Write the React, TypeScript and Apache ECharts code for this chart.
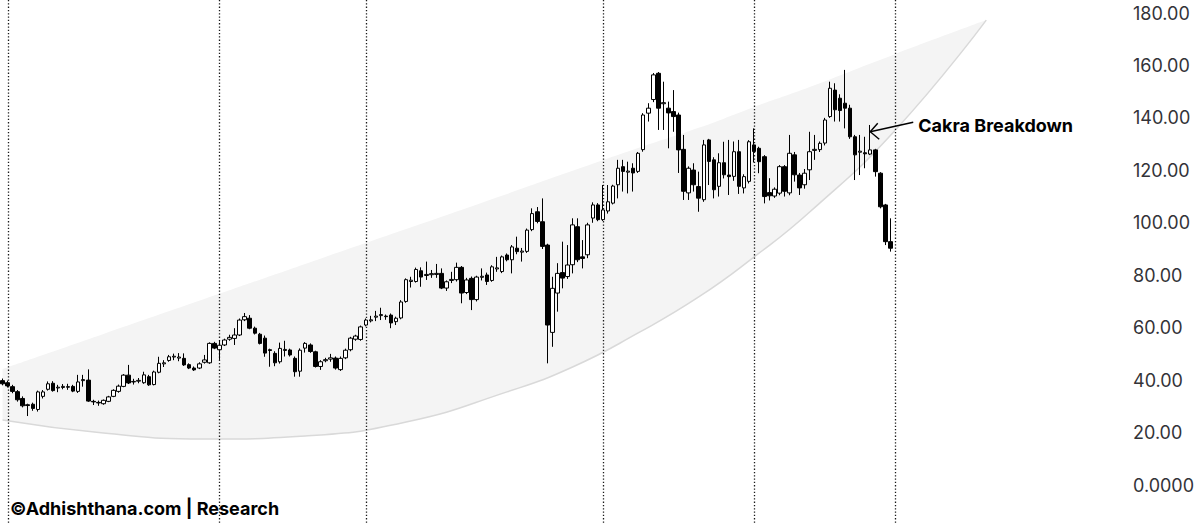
import React, { useEffect, useRef } from "react";
import * as echarts from "echarts";

// ---------- data ----------
const categories: string[] = Array.from({ length: 223 }, (_, i) => `W${i + 1}`);

// [open, close, low, high]
const ohlc: number[][] = [
  [39.8, 38.6, 38, 40.6], [39, 37.8, 37.2, 39.8], [37.5, 35.7, 35, 38.2], [35.6, 32.5, 31.8, 36.2],
  [33, 30.2, 29.6, 33.8], [30.6, 30.3, 26.3, 31], [30.8, 29.2, 28.3, 31.4], [28.8, 35.5, 28, 36],
  [33.8, 35.5, 33, 36.2], [36.5, 38.6, 36, 39.5], [38.8, 36, 35.6, 39.6], [37, 37.3, 35.4, 38.2],
  [37.2, 37.6, 36.5, 38.5], [37.5, 37.3, 36.3, 38.6], [37.6, 35.8, 35.4, 38.2], [35.7, 39.3, 35.1, 42],
  [39.8, 40.2, 37.5, 42], [40, 32, 31.7, 44.1], [31.9, 31.7, 30.5, 32.5], [31.5, 31.3, 30.2, 32.2],
  [31, 32.3, 30.6, 32.6], [31.9, 33.6, 31.6, 34], [33.8, 36.1, 33.5, 36.5], [35.7, 37.7, 35.2, 38.3],
  [37.6, 41.9, 37.3, 42.3], [41.9, 38.9, 38.5, 45.8], [39.3, 39.5, 38.3, 40.5], [39.6, 39.9, 38.8, 40.8],
  [39, 42, 38.6, 43.2], [41.3, 38.2, 37.8, 42], [38.3, 43.1, 38, 43.6], [43, 46.4, 42.6, 48.9],
  [46.2, 46.6, 45, 47.6], [47.5, 48.9, 47, 49.6], [48.8, 49.1, 47.6, 50.1], [48.4, 48.8, 47.2, 50.3],
  [48.3, 45.8, 45.4, 50.2], [45.9, 44.6, 44.2, 46.4], [44.6, 43.9, 43.5, 45.2], [44.6, 46.2, 44.2, 46.8],
  [46.8, 47.7, 46.3, 49.6], [46.6, 54, 46.2, 54.4], [54, 52.2, 51.8, 54.6], [51.6, 53.3, 47.7, 55.3],
  [53.4, 55.3, 53, 55.8], [55.6, 56.3, 55, 57.3], [55.9, 57.2, 53.4, 59.8], [57.2, 62.9, 56.8, 63.5],
  [63, 64.2, 62.5, 65.6], [63.6, 59.8, 59.4, 64.8], [59.8, 57.9, 57.4, 60.4], [57.5, 54, 53.6, 58],
  [56, 50.3, 48.9, 57], [51.6, 51.3, 45.1, 52], [50.2, 46.6, 45.3, 51], [47, 52.1, 46.3, 54.3],
  [51.3, 51.7, 49, 55], [51.5, 49.6, 49, 52], [48.3, 43.2, 41.3, 49], [43.4, 51.4, 41.3, 52.1],
  [52.2, 54, 50.5, 54.5], [53.4, 50.9, 50.4, 54], [50.8, 45.2, 44.8, 51.2], [45.2, 47, 43.9, 47.6],
  [47.4, 47.8, 46.8, 48.5], [48, 48.5, 47, 50], [48.4, 44.6, 44, 49], [44, 48.3, 43.5, 49],
  [48.5, 51.4, 48, 52], [51.6, 56, 51, 56.5], [55.6, 56.8, 55, 57.3], [55.5, 60.3, 55, 60.8],
  [61, 62.9, 60.5, 63.5], [62.6, 63, 62, 64.5], [64, 64.4, 62.5, 66.4], [64.6, 65, 62.9, 67.6],
  [64.4, 64.2, 63, 65], [64.8, 61.8, 59.8, 65.4], [62.3, 63.6, 61, 64.2], [63.7, 69.8, 63.2, 70.5],
  [70, 78.3, 69.5, 78.8], [77.6, 78.1, 75.3, 79.4], [77.6, 82.2, 77.2, 82.9], [81.7, 79.3, 75.6, 83],
  [79.9, 80.3, 78.2, 85.2], [80.2, 80.6, 79, 82], [80.3, 80.7, 79, 84.3], [80.7, 75.1, 74.7, 82.6],
  [75.1, 77.5, 74, 78], [78, 78.4, 77, 81.3], [78.3, 83, 77.6, 84.8], [83, 73.2, 69.3, 83.5],
  [73.4, 78.2, 72.8, 79], [78.8, 70.7, 66.7, 79.5], [70.7, 79.3, 70, 79.8], [79.2, 79.6, 78, 82.6],
  [80.1, 77.6, 76.3, 81], [78, 83.2, 77.5, 83.8], [82.4, 82.8, 81.3, 87], [81.4, 87, 80.8, 87.5],
  [87.7, 85.9, 85.3, 88.3], [85.9, 90.8, 80.7, 91.5], [90.3, 89, 88, 94.7], [88.8, 89.2, 85.2, 90.4],
  [89.1, 97.2, 88.5, 97.8], [97.4, 103.5, 96.8, 105.5], [104.2, 100.5, 99.8, 106], [100.4, 91, 90, 109.3],
  [91.5, 61, 46.4, 92], [58.2, 75, 52.7, 79.4], [73.2, 80.7, 66.1, 84.6], [81, 78.9, 75, 92.8],
  [79.5, 83.9, 78.6, 91.5], [84, 99.2, 80.7, 101.7], [98.5, 85.9, 85, 101.7], [87, 86.4, 82.6, 93.4],
  [87.8, 99.2, 86.5, 100], [101.8, 106.8, 100, 107.8], [106.8, 101.2, 100.6, 107.5], [101.2, 104.9, 100.7, 114.4],
  [104.5, 108, 103.5, 114.4], [107.5, 114, 107, 114.5], [114.5, 120.8, 109.3, 124], [121.4, 119.6, 111.9, 124],
  [119.3, 119.7, 111.2, 123.3], [120.8, 119, 111.9, 122.7], [119.6, 126.5, 119, 127], [127.9, 141.1, 127.1, 141.8],
  [141.8, 143.7, 138.6, 145.6], [147, 156.4, 146, 157.1], [157, 143.7, 135.4, 157.5], [145.4, 145.8, 135.4, 153.8],
  [143.7, 141.9, 128.4, 146.2], [142.4, 140.5, 134.7, 150.6], [141.1, 127.8, 119, 142], [128, 112, 108.7, 133.5],
  [111.4, 120.8, 108.7, 121.5], [120.1, 114.5, 111.9, 122.7], [113.8, 109.4, 104.2, 119.5], [108.8, 129.7, 108, 131.6],
  [131.6, 123.4, 114.4, 132], [124, 112.6, 109.3, 125], [113.9, 122.9, 110, 126.5], [122.9, 118.3, 116.9, 130.9],
  [118.2, 117.6, 110.6, 131.6], [117.7, 127.1, 116, 131], [127.1, 113.9, 111, 131.6], [113.3, 117.6, 111.2, 118.5],
  [115.8, 130.9, 115, 131.5], [129.7, 127.2, 123, 136], [128.4, 123.3, 118.9, 129], [125.2, 110, 107.4, 125.8],
  [111.5, 110.3, 108.5, 117], [110.2, 112.8, 109.5, 113.5], [111.3, 121.4, 110.5, 122], [121.4, 112, 110, 122],
  [111.4, 126.5, 110.5, 133.5], [125.9, 118.3, 115.7, 127], [118.2, 113.3, 110.6, 119], [114.5, 118.9, 113, 120.5],
  [120.2, 127.1, 116.3, 134.7], [127.6, 128, 124, 133.5], [127.9, 130.3, 127, 131], [130.4, 139.2, 129.5, 140],
  [140.5, 151.3, 140, 153.8], [150.6, 143.1, 138.6, 153.2], [147.5, 142.8, 138.6, 149], [145.6, 143.7, 136, 158.3],
  [143.7, 132.8, 132, 145], [132.8, 125.9, 116.3, 133.5], [126.9, 127.3, 118.2, 133.5], [126.7, 126.3, 120.8, 132.8],
  [126.2, 127.8, 125.8, 137.3], [127.8, 119.5, 117.6, 128.2], [118.9, 106.1, 105.5, 119.3], [106.8, 92.8, 91.5, 107.2],
  [92.8, 90.3, 89, 101.7],
];

// channel band control points (category index, upper, lower)
const bandIndex = [0, 20, 40, 60, 80, 100, 113, 126, 138, 149, 160, 177, 195];
const bandUpper = [44.2, 57.6, 70.9, 84.3, 97.6, 111, 119.8, 128.5, 136.2, 144.2, 151.8, 164.4, 177.3];
const bandLower = [24.8, 19.8, 17.5, 18.7, 24, 35.5, 45, 58, 71.7, 87, 104.1, 135.4, 177.3];

// dotted period separators (category index)
const separatorIndex = [1, 43, 72, 119, 149, 177];

const yMin = 0;
const yMax = 180;
const yStep = 20;

const annotationText = "Cakra Breakdown";
const annotationAnchor: [number, number] = [172, 134.7];
const watermarkText = "©Adhishthana.com | Research";

const FONT = "Inter, 'Noto Sans', 'Liberation Sans', sans-serif";

export default function App() {
  const ref = useRef<HTMLDivElement>(null);

  useEffect(() => {
    if (!ref.current) return;
    const chart = echarts.init(ref.current, undefined, { renderer: "svg" });

    chart.setOption({
      animation: false,
      backgroundColor: "#ffffff",
      grid: { left: -1.5, right: 75, top: 13, bottom: 39, containLabel: false },
      xAxis: {
        type: "category",
        data: categories,
        boundaryGap: true,
        axisLine: { show: false },
        axisTick: { show: false },
        axisLabel: { show: false },
        splitLine: { show: false },
      },
      yAxis: {
        type: "value",
        position: "right",
        min: yMin,
        max: yMax,
        interval: yStep,
        axisLine: { show: false },
        axisTick: { show: false },
        splitLine: { show: false },
        axisLabel: {
          color: "#333338",
          fontSize: 18,
          fontFamily: FONT,
          margin: 8,
          formatter: (v: number) => (v === 0 ? "0.0000" : v.toFixed(2)),
        },
      },
      series: [
        {
          type: "line",
          name: "bandLower",
          stack: "band",
          z: 0,
          silent: true,
          smooth: 0.5,
          symbol: "none",
          lineStyle: { color: "#d9d9d9", width: 1.5 },
          data: bandIndex.map((x, k) => [x, bandLower[k]]),
        },
        {
          type: "line",
          name: "bandUpper",
          stack: "band",
          z: 0,
          silent: true,
          smooth: 0.5,
          symbol: "none",
          lineStyle: { width: 0, opacity: 0 },
          areaStyle: { color: "#f4f4f4", opacity: 1 },
          data: bandIndex.map((x, k) => [x, bandUpper[k] - bandLower[k]]),
        },
        {
          type: "candlestick",
          z: 5,
          barWidth: 4,
          itemStyle: {
            color: "#ffffff",
            color0: "#000000",
            borderColor: "#000000",
            borderColor0: "#000000",
            borderWidth: 1,
          },
          data: ohlc,
        },
      ],
    });

    const H = 524;
    const seps = separatorIndex.map((idx) => {
      const p = chart.convertToPixel({ gridIndex: 0 }, [idx, 0]) as number[];
      const x = Math.round(p[0]) + 0.5;
      return {
        type: "line",
        z: 1,
        silent: true,
        shape: { x1: x, y1: 0, x2: x, y2: H },
        style: { stroke: "#1a1a1a", lineWidth: 1.3, lineDash: [1.3, 2] },
      };
    });
    const tip = chart.convertToPixel({ gridIndex: 0 }, annotationAnchor) as number[];
    const tx = tip[0];
    const ty = tip[1];

    chart.setOption({
      graphic: [
        ...seps,
        {
          type: "line",
          z: 10,
          silent: true,
          shape: { x1: tx, y1: ty, x2: tx + 43, y2: ty - 9.5 },
          style: { stroke: "#000", lineWidth: 1.4 },
        },
        {
          type: "polyline",
          z: 10,
          silent: true,
          shape: { points: [[tx + 7.5, ty - 8.5], [tx, ty], [tx + 9, ty + 7.5]] },
          style: { stroke: "#000", lineWidth: 1.4, fill: "none" },
        },
        {
          type: "text",
          z: 10,
          silent: true,
          x: tx + 48,
          y: ty - 6.5,
          style: {
            text: annotationText,
            font: `bold 18px ${FONT}`,
            fill: "#000",
            verticalAlign: "middle",
            align: "left",
          },
        },
        {
          type: "text",
          z: 10,
          silent: true,
          x: 10,
          y: 508,
          style: {
            text: watermarkText,
            font: `bold 18px ${FONT}`,
            fill: "#000",
            verticalAlign: "middle",
            align: "left",
          },
        },
      ],
    });

    return () => chart.dispose();
  }, []);

  return <div ref={ref} style={{ width: 1200, height: 524, position: "absolute", left: 0, top: 0 }} />;
}
